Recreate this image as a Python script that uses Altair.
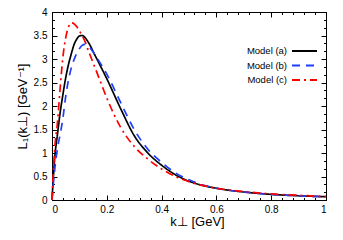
import altair as alt
import pandas as pd

# ---- data ----
k_perp = [0.0, 0.01, 0.02, 0.03, 0.04, 0.05, 0.06, 0.07, 0.08, 0.09, 0.10, 0.11,
          0.12, 0.13, 0.14, 0.15, 0.17, 0.20, 0.25, 0.30, 0.35, 0.40, 0.45, 0.50,
          0.55, 0.60, 0.70, 0.80, 0.90, 1.00]
model_a = [0.0, 0.9, 1.4, 1.87, 2.25, 2.6, 2.88, 3.1, 3.3, 3.42, 3.49, 3.5,
           3.46, 3.38, 3.28, 3.16, 2.93, 2.58, 1.95, 1.37, 1.0, 0.74, 0.54, 0.40,
           0.31, 0.25, 0.17, 0.12, 0.09, 0.07]
model_b = [0.0, 0.65, 1.1, 1.4, 1.75, 2.2, 2.55, 2.8, 2.98, 3.12, 3.22, 3.29,
           3.31, 3.29, 3.23, 3.15, 2.97, 2.68, 2.08, 1.5, 1.08, 0.8, 0.58, 0.43,
           0.32, 0.25, 0.17, 0.12, 0.09, 0.07]
model_c = [0.0, 1.1, 1.65, 2.4, 3.05, 3.45, 3.68, 3.77, 3.75, 3.69, 3.6, 3.5,
           3.38, 3.22, 3.07, 2.92, 2.62, 2.17, 1.55, 1.14, 0.87, 0.66, 0.5, 0.39,
           0.31, 0.25, 0.18, 0.13, 0.10, 0.07]

series_names = ["Model (a)", "Model (b)", "Model (c)"]
series_colors = ["#000000", "#1f3fff", "#ff0000"]
series_dashes = [[1, 0], [8, 6], [8, 4, 2, 4]]

x_major = [0, 0.2, 0.4, 0.6, 0.8, 1.0]
x_minor = [round(i * 0.04, 2) for i in range(26)]
y_major = [0, 0.5, 1, 1.5, 2, 2.5, 3, 3.5, 4]
y_minor = [round(i / 6, 4) for i in range(25)]

rows = []
for name, ys in zip(series_names, [model_a, model_b, model_c]):
    for kx, yv in zip(k_perp, ys):
        rows.append({"k": kx, "L": yv, "model": name})
df = pd.DataFrame(rows)

FONT = "Liberation Sans"
xs = alt.Scale(domain=[0, 1], nice=False, zero=False)
ys_ = alt.Scale(domain=[0, 4], nice=False, zero=False)

MAJ = 5
MIN = 2.5


def xaxis(orient, values, size, labels, title=None):
    kw = dict(orient=orient, values=values, tickSize=size, offset=-size,
              domain=False, grid=False, labels=labels, tickColor="black",
              tickWidth=1)
    if labels:
        kw.update(format="~g", labelFontSize=10, labelFont=FONT,
                  labelColor="black", labelPadding=4)
    if title:
        kw.update(title=title, titleFont=FONT, titleFontSize=13,
                  titleFontWeight="normal", titleColor="black", titlePadding=1,
                  titleX=145)
    else:
        kw.update(title=None)
    return alt.Axis(**kw)


def yaxis(orient, values, size, labels, title=None):
    kw = dict(orient=orient, values=values, tickSize=size, offset=-size,
              domain=False, grid=False, labels=labels, tickColor="black",
              tickWidth=1)
    if labels:
        kw.update(format="~g", labelFontSize=10, labelFont=FONT,
                  labelColor="black", labelPadding=5)
    if title:
        kw.update(title=title, titleFont=FONT, titleFontSize=13,
                  titleFontWeight="normal", titleColor="black", titlePadding=4)
    else:
        kw.update(title=None)
    return alt.Axis(**kw)


base = alt.Chart(df)

lines = base.mark_line(strokeWidth=1.7, interpolate="monotone").encode(
    x=alt.X("k:Q", scale=xs, axis=xaxis("bottom", x_major, MAJ, True, "k⊥ [GeV]")),
    y=alt.Y("L:Q", scale=ys_, axis=yaxis("left", y_major, MAJ, True, "L₁(k⊥) [GeV⁻¹]")),
    color=alt.Color(
        "model:N",
        scale=alt.Scale(domain=series_names, range=series_colors),
        legend=alt.Legend(
            title=None, orient="none", legendX=246.5, legendY=33,
            symbolType="M-2.5,0H2.5", symbolSize=100, symbolStrokeWidth=2,
            symbolFillColor="transparent",
            labelAlign="right", labelOffset={"expr": "-23.5"}, labelFontSize=9.5,
            labelFont=FONT, labelColor="black", rowPadding=3.5,
            padding=0,
        ),
    ),
    strokeDash=alt.StrokeDash(
        "model:N",
        scale=alt.Scale(domain=series_names, range=series_dashes),
        legend=None,
    ),
)

ghost = base.mark_point(opacity=0, size=1)

top_major = ghost.encode(
    x=alt.X("k:Q", scale=xs, axis=xaxis("top", x_major, MAJ, False)),
    y=alt.Y("L:Q", scale=ys_, axis=yaxis("right", y_major, MAJ, False)),
)
bottom_minor = ghost.encode(
    x=alt.X("k:Q", scale=xs, axis=xaxis("bottom", x_minor, MIN, False)),
    y=alt.Y("L:Q", scale=ys_, axis=yaxis("left", y_minor, MIN, False)),
)
top_minor = ghost.encode(
    x=alt.X("k:Q", scale=xs, axis=xaxis("top", x_minor, MIN, False)),
    y=alt.Y("L:Q", scale=ys_, axis=yaxis("right", y_minor, MIN, False)),
)

chart = (
    alt.layer(top_major, bottom_minor, top_minor, lines)
    .resolve_axis(x="independent", y="independent")
    .properties(
        width=274, height=188,
        autosize=alt.AutoSizeParams(type="none"),
        padding={"left": 44, "top": 4, "right": 9, "bottom": 32},
        background="white",
    )
    .configure_view(stroke="black", strokeWidth=1)
)

chart.save("out.html", embed_options={"renderer": "svg", "actions": False})
